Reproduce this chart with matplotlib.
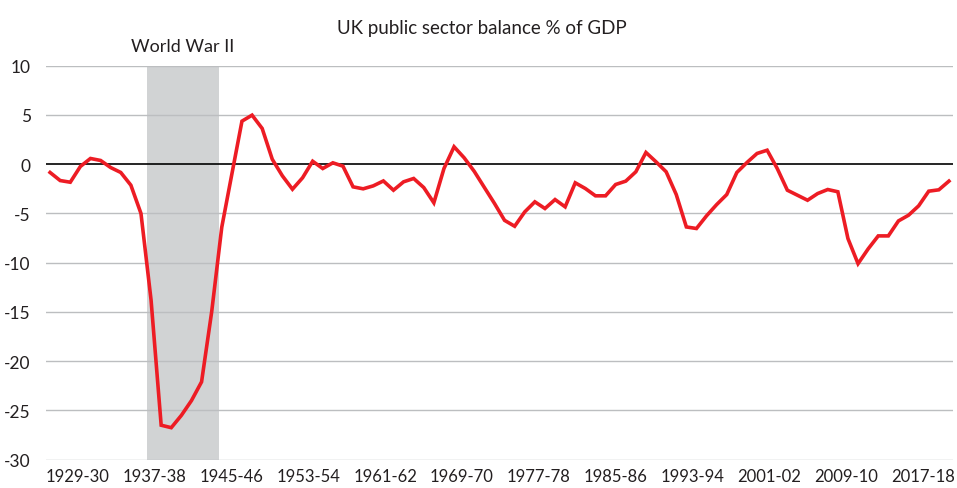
import matplotlib.pyplot as plt

# UK public sector balance, % of GDP, fiscal years 1929-30 to 2018-19
start_years = list(range(1929, 2019))
balance = [
    -0.84, -1.66, -1.83, -0.23, 0.58, 0.38, -0.34, -0.84, -2.13, -5.0,
    -13.8, -26.5, -26.75, -25.5, -24.0, -22.1, -15.0, -6.4, -1.0, 4.37,
    4.98, 3.63, 0.5, -1.18, -2.54, -1.38, 0.3, -0.44, 0.14, -0.2,
    -2.3, -2.5, -2.2, -1.7, -2.64, -1.79, -1.45, -2.37, -3.92, -0.44,
    1.77, 0.65, -0.73, -2.36, -3.98, -5.7, -6.3, -4.84, -3.82, -4.5,
    -3.59, -4.33, -1.89, -2.47, -3.21, -3.21, -2.06, -1.72, -0.77, 1.19,
    0.24, -0.77, -3.08, -6.37, -6.53, -5.24, -4.1, -3.08, -0.84, 0.17,
    1.09, 1.42, -0.44, -2.64, -3.15, -3.66, -2.98, -2.57, -2.8, -7.55,
    -10.1, -8.6, -7.28, -7.28, -5.76, -5.18, -4.23, -2.74, -2.6, -1.72,
]

tick_years = [1929, 1937, 1945, 1953, 1961, 1969, 1977, 1985, 1993, 2001, 2009, 2017]
tick_labels = [f"{y}-{(y + 1) % 100:02d}" for y in tick_years]
y_ticks = [10, 5, 0, -5, -10, -15, -20, -25, -30]

text_col = '#231f20'
plt.rcParams['font.family'] = ['Lato', 'DejaVu Sans']

fig = plt.figure(figsize=(9.57, 4.89), dpi=100)
ax = fig.add_axes([0.0481, 0.0579, 0.9477, 0.8057])

# gridlines
for v in y_ticks:
    if v == 0:
        ax.axhline(v, color='black', lw=1.2, zorder=3)
    else:
        ax.axhline(v, color='#bcbec0', lw=1.0, zorder=1)

# WWII shading
ax.axvspan(1938.63, 1945.7, color='#d1d3d4', lw=0, zorder=0)
ax.text(1942.15, 11.2, 'World War II', ha='center', va='bottom',
        fontsize=13, color=text_col)

ax.plot(start_years, balance, color='#ed1c24', lw=2.6, zorder=4,
        solid_joinstyle='miter')

ax.set_xlim(1928.6, 2018.4)
ax.set_ylim(-30, 10)
ax.set_yticks(y_ticks)
ax.set_yticklabels([str(v) for v in y_ticks])
ax.tick_params(axis='y', length=0, pad=11, labelsize=12.5, labelcolor=text_col)
ax.set_xticks([])
for s in ax.spines.values():
    s.set_visible(False)

# category label axis (labels run on their own spacing in the original)
ax2 = ax.twiny()
ax2.set_xlim(1925.7, 2020.14)
ax2.xaxis.set_ticks_position('bottom')
ax2.set_xticks(tick_years)
ax2.set_xticklabels(tick_labels)
ax2.tick_params(axis='x', length=0, pad=6, labelsize=12, labelcolor=text_col)
for s in ax2.spines.values():
    s.set_visible(False)

fig.text(0.504, 0.942, 'UK public sector balance % of GDP', ha='center',
         va='center', fontsize=13.5, color=text_col)

fig.savefig('out.png', dpi=100)
